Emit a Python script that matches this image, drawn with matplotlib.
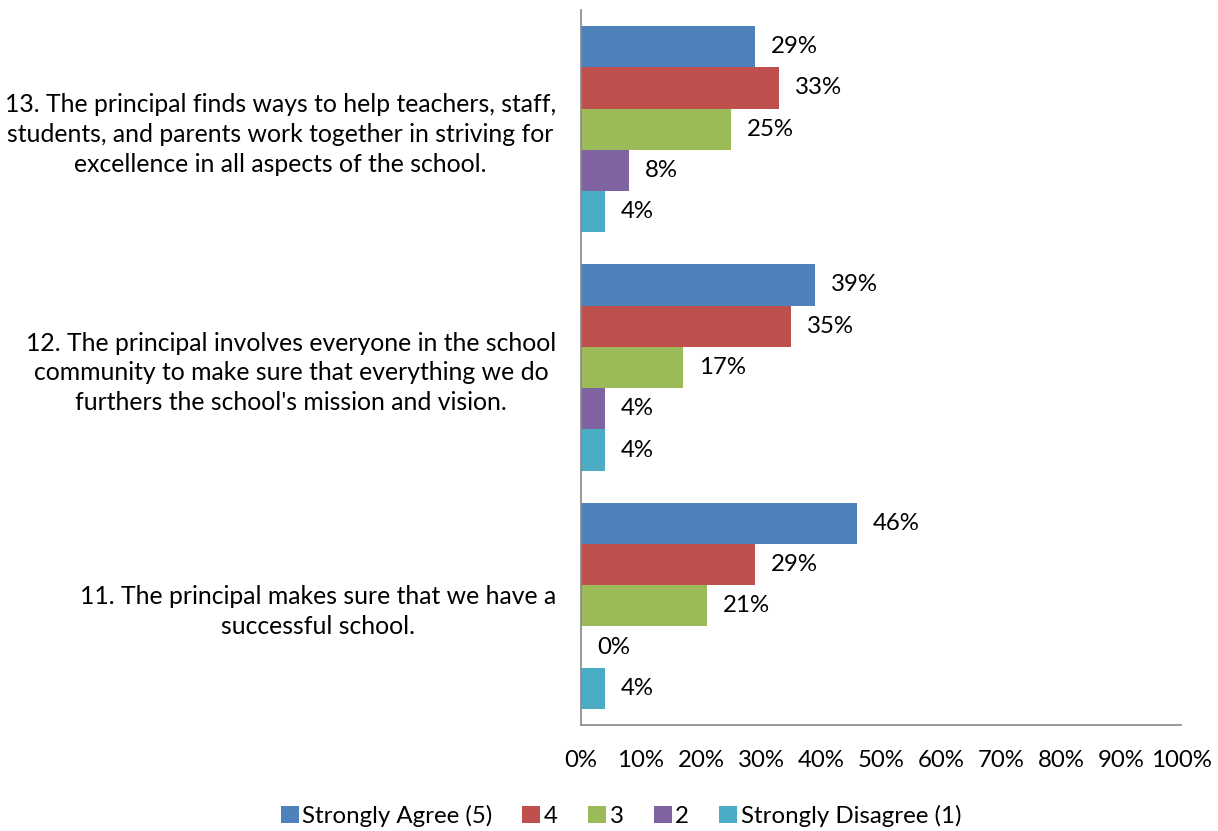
import matplotlib
matplotlib.use("Agg")
import matplotlib.pyplot as plt
from matplotlib.patches import Patch
from matplotlib.transforms import offset_copy

plt.rcParams['font.family'] = ['Lato', 'DejaVu Sans']

categories = [
    "11. The principal makes sure that we have a\nsuccessful school.",
    "12. The principal involves everyone in the school\ncommunity to make sure that everything we do\nfurthers the school's mission and vision.",
    "13. The principal finds ways to help teachers, staff,\nstudents, and parents work together in striving for\nexcellence in all aspects of the school.",
]
series_names = ["Strongly Agree (5)", "4", "3", "2", "Strongly Disagree (1)"]
values = {
    "Strongly Agree (5)": [46, 39, 29],
    "4": [29, 35, 33],
    "3": [21, 17, 25],
    "2": [0, 4, 8],
    "Strongly Disagree (1)": [4, 4, 4],
}
colors = ["#4F81BD", "#C0504D", "#9BBB59", "#8064A2", "#4BACC6"]
xticks = [0, 10, 20, 30, 40, 50, 60, 70, 80, 90, 100]

FS = 17.3

fig = plt.figure(figsize=(12.18, 8.31), dpi=100)
ax = fig.add_axes([581/1218, 1 - 725/831, 600/1218, 715/831])

h = 0.866 / 5
for i, name in enumerate(series_names):
    offs = 2 * h - i * h
    ys = [c + offs for c in range(len(categories))]
    ax.barh(ys, values[name], height=h, color=colors[i], edgecolor='none')
    tr = offset_copy(ax.transData, fig=fig, x=16, y=0, units='dots')
    for y, v in zip(ys, values[name]):
        ax.text(v, y, f"{v}%", transform=tr, ha='left', va='center',
                fontsize=FS, color='black')

ax.set_xlim(0, 100)
ax.set_ylim(-0.5, 2.5)
ax.set_xticks(xticks)
ax.set_xticklabels([f"{t}%" for t in xticks], fontsize=FS)
ax.set_yticks(range(len(categories)))
ax.set_yticklabels(categories, fontsize=17.8, multialignment='center', linespacing=1.36)
ax.tick_params(axis='x', length=0, pad=18)
ax.tick_params(axis='y', length=0, pad=18)
for s in ['top', 'right']:
    ax.spines[s].set_visible(False)
for s in ['left', 'bottom']:
    ax.spines[s].set_color('#888888')
    ax.spines[s].set_linewidth(1.2)

handles = [Patch(facecolor=c, edgecolor='none') for c in colors]
fig.legend(handles, series_names, loc='center', bbox_to_anchor=(621/1218, 1 - 816/831),
           ncol=5, frameon=False, fontsize=FS, handlelength=0.75, handleheight=0.75,
           handletextpad=0.15, columnspacing=1.25)

fig.savefig("out.png", dpi=100)
